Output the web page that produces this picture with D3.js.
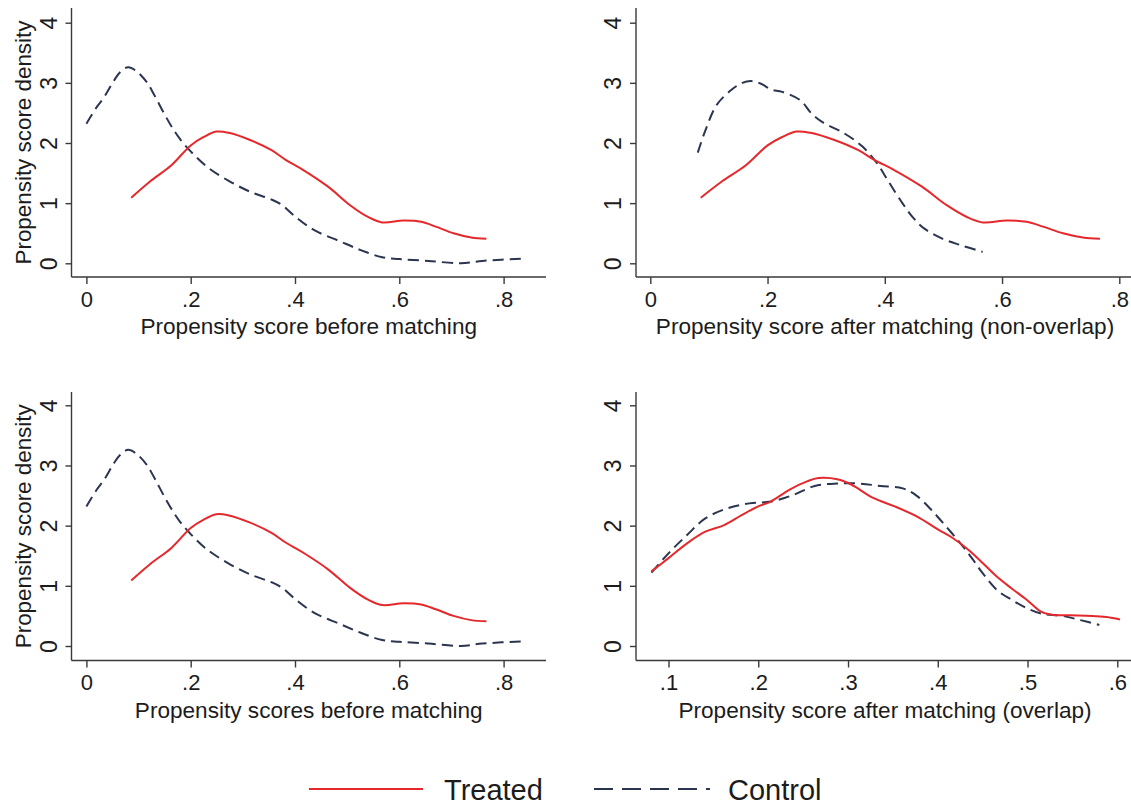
<!DOCTYPE html>
<html>
<head>
<meta charset="utf-8">
<script src="https://cdn.jsdelivr.net/npm/d3@7"></script>
<style>
  body { margin: 0; background: #fff; }
  text { font-family: "Liberation Sans", Arial, sans-serif; fill: #1c1c1c; }
</style>
</head>
<body>
<script>
// tick values
var yTicks = [0, 1, 2, 3, 4];
var xTicksWide = [0, 0.2, 0.4, 0.6, 0.8];
var xTicksOverlap = [0.1, 0.2, 0.3, 0.4, 0.5, 0.6];

// density curves [score, density]
var treatedAll = [[0.086,1.09],[0.122,1.36],[0.163,1.63],[0.2,1.96],[0.225,2.1],[0.249,2.19],[0.273,2.17],
  [0.314,2.05],[0.355,1.88],[0.382,1.72],[0.416,1.55],[0.464,1.27],[0.505,0.97],[0.54,0.77],[0.567,0.68],
  [0.608,0.71],[0.642,0.69],[0.67,0.61],[0.704,0.5],[0.738,0.43],[0.767,0.41]];

var controlAll = [[0,2.32],[0.02,2.6],[0.033,2.75],[0.053,3.04],[0.065,3.18],[0.08,3.26],[0.095,3.2],
  [0.115,3.02],[0.13,2.8],[0.149,2.49],[0.165,2.25],[0.18,2.06],[0.2,1.86],[0.232,1.6],[0.273,1.37],
  [0.314,1.19],[0.355,1.06],[0.375,0.97],[0.4,0.78],[0.437,0.55],[0.485,0.37],[0.526,0.22],[0.567,0.1],
  [0.6,0.07],[0.656,0.04],[0.718,0.0],[0.759,0.04],[0.841,0.08]];

var controlNonOverlap = [[0.081,1.84],[0.094,2.21],[0.113,2.63],[0.138,2.88],[0.157,3.0],[0.172,3.03],
  [0.188,2.99],[0.206,2.89],[0.225,2.85],[0.256,2.71],[0.275,2.49],[0.293,2.35],[0.331,2.16],[0.362,1.94],
  [0.387,1.66],[0.405,1.38],[0.43,1.0],[0.449,0.75],[0.467,0.58],[0.498,0.41],[0.53,0.3],[0.567,0.19]];

var treatedOverlap = [[0.081,1.24],[0.1,1.46],[0.121,1.71],[0.141,1.9],[0.162,2.01],[0.182,2.18],[0.2,2.32],
  [0.214,2.4],[0.235,2.6],[0.255,2.74],[0.267,2.79],[0.288,2.77],[0.304,2.68],[0.328,2.46],[0.352,2.32],
  [0.377,2.15],[0.401,1.93],[0.417,1.79],[0.434,1.6],[0.45,1.38],[0.466,1.15],[0.482,0.96],[0.499,0.77],
  [0.515,0.57],[0.527,0.52],[0.547,0.51],[0.572,0.5],[0.588,0.48],[0.603,0.44]];

var controlOverlap = [[0.081,1.22],[0.1,1.54],[0.121,1.85],[0.141,2.12],[0.166,2.29],[0.19,2.37],[0.214,2.4],
  [0.239,2.51],[0.263,2.66],[0.288,2.7],[0.312,2.7],[0.336,2.66],[0.361,2.62],[0.377,2.49],[0.393,2.26],
  [0.409,1.99],[0.425,1.71],[0.438,1.46],[0.45,1.21],[0.466,0.93],[0.482,0.77],[0.499,0.63],[0.515,0.54],
  [0.539,0.5],[0.559,0.43],[0.58,0.35]];

var legendLabels = ['Treated', 'Control'];

var RED = '#e5282c', NAVY = '#2b3550', AXIS = '#3a3a3a';

var svg = d3.select('body').append('svg')
    .attr('width', 1131)
    .attr('height', 805);

// panel layout
var panels = [
  {title: 'Propensity score before matching', yTitle: true, ticks: xTicksWide,
   xDom: [0, 0.8], xRng: [86.4, 503.6], xLine: [71.5, 546], yRng: [263.3, 22.7], yLine: [8, 277],
   treated: treatedAll, control: controlAll},
  {title: 'Propensity score after matching (non-overlap)', yTitle: false, ticks: xTicksWide,
   xDom: [0, 0.8], xRng: [650.3, 1119.3], xLine: [636, 1134], yRng: [263.3, 22.7], yLine: [8, 277],
   treated: treatedAll, control: controlNonOverlap},
  {title: 'Propensity scores before matching', yTitle: true, ticks: xTicksWide,
   xDom: [0, 0.8], xRng: [86.4, 503.6], xLine: [71.5, 546], yRng: [646, 405.3], yLine: [392, 660.5],
   treated: treatedAll, control: controlAll},
  {title: 'Propensity score after matching (overlap)', yTitle: false, ticks: xTicksOverlap,
   xDom: [0.1, 0.6], xRng: [668.5, 1117.3], xLine: [636, 1134], yRng: [646, 405.3], yLine: [392, 660.5],
   treated: treatedOverlap, control: controlOverlap}
];

// Stata style: 0, .2, .4 ...
function fmt(d) {
  return d === 0 ? '0' : d3.format('.1f')(d).replace(/^0/, '');
}

panels.forEach(function(p) {
  var x = d3.scaleLinear().domain(p.xDom).range(p.xRng);
  var y = d3.scaleLinear().domain([0, 4]).range(p.yRng);
  var g = svg.append('g');
  var x0 = p.xLine[0], yB = p.yLine[1];

  // axis lines
  g.append('line').attr('x1', x0).attr('x2', x0).attr('y1', p.yLine[0]).attr('y2', yB)
    .attr('stroke', AXIS).attr('stroke-width', 1.4);
  g.append('line').attr('x1', x0).attr('x2', p.xLine[1]).attr('y1', yB).attr('y2', yB)
    .attr('stroke', AXIS).attr('stroke-width', 1.4);

  // x axis
  var xa = g.append('g')
    .attr('transform', 'translate(0,' + yB + ')')
    .call(d3.axisBottom(x).tickValues(p.ticks).tickSize(7).tickPadding(7).tickFormat(fmt));
  xa.select('.domain').remove();
  xa.selectAll('line').attr('stroke', AXIS).attr('stroke-width', 1.4);
  xa.selectAll('text').attr('font-size', 22).attr('font-family', null).attr('fill', '#1c1c1c');

  // y axis, labels turned like Stata
  var ya = g.append('g')
    .attr('transform', 'translate(' + x0 + ',0)')
    .call(d3.axisLeft(y).tickValues(yTicks).tickSize(6).tickFormat(d3.format('d')));
  ya.select('.domain').remove();
  ya.selectAll('line').attr('stroke', AXIS).attr('stroke-width', 1.4);
  ya.selectAll('text')
    .attr('x', null).attr('dy', null)
    .attr('transform', 'translate(-15,0) rotate(-90)')
    .attr('text-anchor', 'middle')
    .attr('font-size', 23).attr('font-family', null).attr('fill', '#1c1c1c');

  // titles
  g.append('text')
    .attr('x', (p.xLine[0] + p.xLine[1]) / 2)
    .attr('y', yB + 57)
    .attr('text-anchor', 'middle')
    .attr('font-size', 22.6)
    .text(p.title);
  if (p.yTitle) {
    g.append('text')
      .attr('transform', 'translate(31,' + (p.yLine[0] + p.yLine[1]) / 2 + ') rotate(-90)')
      .attr('text-anchor', 'middle')
      .attr('font-size', 22.4)
      .text('Propensity score density');
  }

  var line = d3.line()
    .x(function(d) { return x(d[0]); })
    .y(function(d) { return y(d[1]); })
    .curve(d3.curveCatmullRom.alpha(0.5));

  g.append('path').datum(p.control)
    .attr('d', line).attr('fill', 'none')
    .attr('stroke', NAVY).attr('stroke-width', 2)
    .attr('stroke-dasharray', '11,6');
  g.append('path').datum(p.treated)
    .attr('d', line).attr('fill', 'none')
    .attr('stroke', RED).attr('stroke-width', 2);
});

// legend
var lg = svg.append('g');
lg.append('line').attr('x1', 309).attr('x2', 423).attr('y1', 789).attr('y2', 789)
  .attr('stroke', RED).attr('stroke-width', 2.2);
lg.append('text').attr('x', 444).attr('y', 800).attr('font-size', 29).text(legendLabels[0]);
lg.append('line').attr('x1', 594).attr('x2', 710).attr('y1', 789).attr('y2', 789)
  .attr('stroke', NAVY).attr('stroke-width', 2.2).attr('stroke-dasharray', '19,9');
lg.append('text').attr('x', 728).attr('y', 800).attr('font-size', 29).text(legendLabels[1]);
</script>
</body>
</html>
